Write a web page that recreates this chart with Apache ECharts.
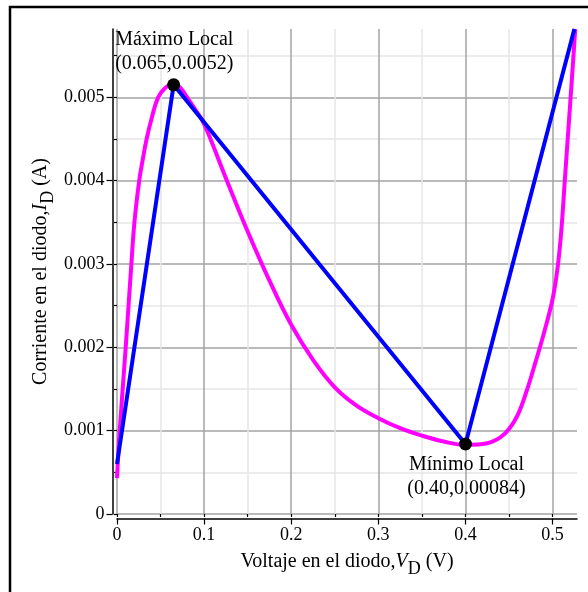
<!DOCTYPE html>
<html><head><meta charset="utf-8">
<script src="https://cdn.jsdelivr.net/npm/echarts@6/dist/echarts.min.js"></script>
<style>html,body{margin:0;padding:0;background:#fff}#c{width:588px;height:592px}</style>
</head><body><div id="c"></div>
<script>
// Magenta curve: diode voltage (V) and current (A)
const curveV = [0, 0.0031, 0.010, 0.0165, 0.0200, 0.0255, 0.0295, 0.0340, 0.0398, 0.0472, 0.055, 0.064, 0.072, 0.0805, 0.090, 0.100, 0.125, 0.150, 0.175, 0.200, 0.225, 0.250, 0.275, 0.300, 0.325, 0.350, 0.375, 0.400, 0.425, 0.440, 0.450, 0.460, 0.470, 0.480, 0.490, 0.500, 0.506, 0.510, 0.514, 0.518, 0.522, 0.526];
const curveI = [0.00043, 0.0010, 0.0020, 0.0030, 0.0035, 0.0040, 0.00425, 0.0045, 0.00475, 0.0050, 0.00511, 0.00516, 0.00512, 0.0050, 0.00485, 0.00468, 0.00403, 0.00339, 0.00280, 0.00227, 0.00185, 0.00152, 0.00130, 0.00115, 0.00103, 0.00094, 0.00087, 0.00083, 0.00085, 0.00092, 0.00102, 0.00119, 0.00147, 0.00181, 0.00217, 0.00258, 0.00298, 0.00340, 0.00400, 0.00460, 0.00520, 0.00582];
// Blue polyline
const polyV = [0, 0.065, 0.40, 0.525];
const polyI = [0.0006, 0.00515, 0.00084, 0.00582];
// Extrema points
const extremaV = [0.065, 0.40];
const extremaI = [0.00515, 0.00084];
const extremaLabels = ['Máximo Local\n(0.065,0.0052)', 'Mínimo Local\n(0.40,0.00084)'];
// Axes
const xMajorTicks = [0, 0.1, 0.2, 0.3, 0.4, 0.5];
const xMajorLabels = ['0', '0.1', '0.2', '0.3', '0.4', '0.5'];
const xAllTicks = [0, 0.05, 0.1, 0.15, 0.2, 0.25, 0.3, 0.35, 0.4, 0.45, 0.5];
const yMajorTicks = [0, 0.001, 0.002, 0.003, 0.004, 0.005];
const yMajorLabels = ['0', '0.001', '0.002', '0.003', '0.004', '0.005'];
const yAllTicks = [0, 0.0005, 0.001, 0.0015, 0.002, 0.0025, 0.003, 0.0035, 0.004, 0.0045, 0.005, 0.0055];
const xName = 'Voltaje en el diodo,{i|V}{sub|D} (V)';
const yName = 'Corriente en el diodo,{i|I}{sub|D} (A)';

const FONT = 'Liberation Serif';
const xMin = 0, xMax = 0.528, yMin = 0, yMax = 0.00582;

function labelFor(ticks, labels) {
  return v => { for (let k = 0; k < ticks.length; k++) if (Math.abs(ticks[k] - v) < 1e-9) return labels[k]; return ''; };
}
const richName = {
  i: { fontFamily: FONT, fontSize: 20, fontStyle: 'italic', color: '#000' },
  sub: { fontFamily: FONT, fontSize: 18, color: '#000', padding: [16, 0, 0, 0] }
};

const chart = echarts.init(document.getElementById('c'), null, { renderer: 'canvas' });
chart.setOption({
  animation: false,
  backgroundColor: '#fff',
  graphic: [{
    type: 'rect', silent: true, z: 100,
    shape: { x: 10, y: 7, width: 800, height: 800 },
    style: { fill: 'none', stroke: '#000', lineWidth: 2.5 }
  }],
  grid: { left: 117, right: 11, top: 29, bottom: 78, containLabel: false },
  xAxis: [{
    type: 'value', min: xMin, max: xMax, interval: 0.1, position: 'bottom', offset: 4.5, z: 3,
    axisLine: { show: true, onZero: false, lineStyle: { color: '#000', width: 1.5 } },
    axisTick: { show: true, length: 6, customValues: xMajorTicks, lineStyle: { color: '#000', width: 1.2 } },
    axisLabel: { customValues: xMajorTicks, formatter: labelFor(xMajorTicks, xMajorLabels), margin: 8, fontFamily: FONT, fontSize: 18, color: '#000' },
    splitLine: { show: false },
    name: xName, nameLocation: 'middle', nameGap: 26, nameMoveOverlap: false,
    nameTextStyle: { fontFamily: FONT, fontSize: 20, color: '#000', rich: richName }
  }, {
    type: 'value', min: xMin, max: xMax, interval: 0.05, position: 'bottom', offset: 4.5, z: 1,
    axisLine: { show: false },
    axisTick: { show: true, length: 3, customValues: xAllTicks, lineStyle: { color: '#000', width: 1.2 } },
    axisLabel: { show: false },
    splitLine: { show: true, lineStyle: { color: ['#a3a3a3', '#e6e6e6'], width: 1.5 } }
  }],
  yAxis: [{
    type: 'value', min: yMin, max: yMax, interval: 0.001, position: 'left', offset: 4.5, z: 3,
    axisLine: { show: true, onZero: false, lineStyle: { color: '#000', width: 1.5 } },
    axisTick: { show: true, length: 6, customValues: yMajorTicks, lineStyle: { color: '#000', width: 1.2 } },
    axisLabel: { customValues: yMajorTicks, formatter: labelFor(yMajorTicks, yMajorLabels), margin: 8, fontFamily: FONT, fontSize: 18, color: '#000' },
    splitLine: { show: false },
    name: yName, nameLocation: 'middle', nameGap: 55, nameMoveOverlap: false,
    nameTextStyle: { fontFamily: FONT, fontSize: 20, color: '#000', rich: richName }
  }, {
    type: 'value', min: yMin, max: yMax, interval: 0.0005, position: 'left', offset: 4.5, z: 1,
    axisLine: { show: false },
    axisTick: { show: true, length: 3, customValues: yAllTicks, lineStyle: { color: '#000', width: 1.2 } },
    axisLabel: { show: false },
    splitLine: { show: true, lineStyle: { color: ['#a3a3a3', '#e6e6e6'], width: 1.5 } }
  }],
  series: [{
    type: 'line', xAxisIndex: 0, yAxisIndex: 0, z: 4,
    data: curveV.map((v, k) => [v, curveI[k]]),
    smooth: 0.4, showSymbol: false, clip: true,
    lineStyle: { color: '#ff00ff', width: 4 }
  }, {
    type: 'line', xAxisIndex: 0, yAxisIndex: 0, z: 5,
    data: polyV.map((v, k) => [v, polyI[k]]),
    showSymbol: false, clip: true,
    lineStyle: { color: '#0000ff', width: 4 }
  }, {
    type: 'scatter', xAxisIndex: 0, yAxisIndex: 0, z: 6,
    symbol: 'circle', symbolSize: 13,
    itemStyle: { color: '#000', opacity: 1 },
    data: extremaV.map((v, k) => ({
      value: [v, extremaI[k]],
      label: k === 0
        ? { show: true, formatter: extremaLabels[k], position: [-52, -3], align: 'left', verticalAlign: 'bottom', fontFamily: FONT, fontSize: 20, lineHeight: 24, color: '#000' }
        : { show: true, formatter: extremaLabels[k], position: 'bottom', distance: 2, offset: [1, 0], align: 'center', fontFamily: FONT, fontSize: 20, lineHeight: 24, color: '#000' }
    }))
  }]
});
</script></body></html>
